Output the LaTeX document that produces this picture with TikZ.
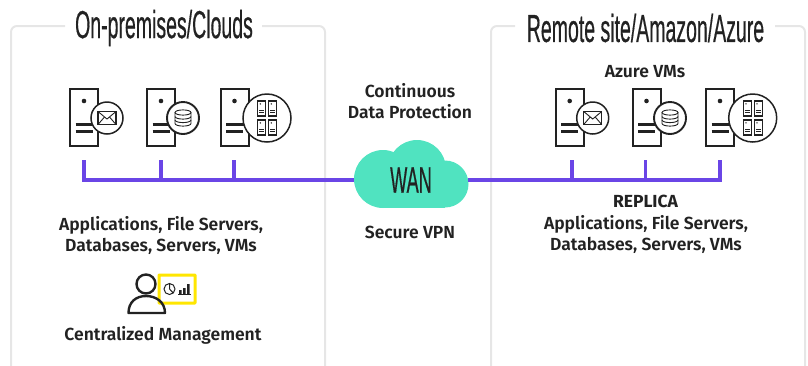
\documentclass[tikz,border=0pt]{standalone}
\usepackage{fontspec}
\setmainfont{Fira Sans SemiBold}
\newfontfamily\boldfont{Fira Sans}[UprightFont=*-Bold]
\newfontfamily\narrowfont{Liberation Sans}[FakeBold=0.7]
\definecolor{busc}{HTML}{6A45E6}
\definecolor{cloudc}{HTML}{50E3C0}
\definecolor{panelc}{HTML}{E6E6E6}
\definecolor{inkc}{HTML}{222222}
\definecolor{yelc}{HTML}{FFE600}
\tikzset{
  panel/.style={draw=panelc,line width=2pt,rounded corners=6pt},
  bus/.style={draw=busc,line width=3.2pt},
  label/.style={inner sep=0pt,align=center,text=inkc,font=\fontsize{17.5}{21}\selectfont},
  title/.style={inner sep=0pt,text=inkc},
  srv/.style={draw=inkc,line width=2pt,fill=white},
  srvline/.style={draw=inkc,line width=2.4pt},
  badge/.style={draw=inkc,line width=1.5pt,fill=white},
  thin/.style={draw=inkc,line width=.9pt,fill=white},
  minisrv/.pic={
    \draw[thin,line width=1.2pt] (-4,-7.5) rectangle (4,7.5);
    \fill[inkc] (-1.2,-4.6) circle (.8);
    \draw[thin] (-2.4,2.2) -- (2.4,2.2) (-2.4,4.3) -- (2.4,4.3);
  },
  rack/.pic={
    \draw[srv] (-14,-28.5) rectangle (14,28.5);
    \fill[inkc] (0,-16.5) circle (2.3);
    \draw[srvline] (-8.5,7) -- (10,7) (-8.5,14) -- (8.5,14);
  },
  mailbadge/.pic={
    \draw[badge] (0,0) circle (16);
    \draw[thin,line width=1.3pt] (-9,-6.5) rectangle (9,6.5);
    \draw[thin,fill=none] (-9,-6.5) -- (0,1) -- (9,-6.5) (-9,6.5) -- (-2.5,-1) (9,6.5) -- (2.5,-1);
  },
  dbbadge/.pic={
    \draw[badge,line width=1.9pt] (0,0) circle (16);
    \draw[thin,fill=none] (-8,-5.5) -- (-8,5.5) arc[start angle=180,end angle=0,x radius=8,y radius=2.6] -- (8,-5.5);
    \draw[thin,fill=none] (0,-5.5) ellipse[x radius=8,y radius=2.6];
    \draw[thin,fill=none] (-8,-1.5) arc[start angle=180,end angle=0,x radius=8,y radius=2.6];
    \draw[thin,fill=none] (-8,2) arc[start angle=180,end angle=0,x radius=8,y radius=2.6];
  },
  farmbadge/.pic={
    \draw[badge] (0,0) circle (24);
    \foreach \dx in {-5.5,5.5}\foreach \dy in {-9.5,9.5}{\pic at (\dx,\dy) {minisrv};}
  }
}
\begin{document}
\begin{tikzpicture}[x=1pt,y=-1pt]
\useasboundingbox (0,0) rectangle (808,365);
% panels
\draw[panel] (65,26) -- (11,26) -- (11,372) (262,26) -- (325,26) -- (325,372);
\draw[panel] (515,26) -- (491,26) -- (491,372) (775,26) -- (805,26) -- (805,372);
\node[title] (ltitle) at (164,28) {\narrowfont\scalebox{.5}[1]{\fontsize{39}{39}\selectfont On-premises/Clouds}};
\node[title] (rtitle) at (645.5,28) {\narrowfont\scalebox{.5}[1]{\fontsize{39}{39}\selectfont Remote site/Amazon/Azure}};
% racks and badges, left
\pic at (84,117.5) {rack};
\pic at (107,118) {mailbadge};
\pic at (161,117.5) {rack};
\pic at (183,118) {dbbadge};
\pic at (234.5,117.5) {rack};
\pic at (267,118) {farmbadge};
% racks and badges, right
\pic at (569.7,117.5) {rack};
\pic at (592.7,118) {mailbadge};
\pic at (646.5,117.5) {rack};
\pic at (670,118) {dbbadge};
\pic at (720,117.5) {rack};
\pic at (752.7,118) {farmbadge};
% cloud
\fill[cloudc] (383,179) circle (29);
\fill[cloudc] (417,169) circle (29);
\fill[cloudc] (445,184) circle (23.5);
\fill[cloudc] (383,180) rectangle (445,207.5);
\node[title,minimum width=114pt,minimum height=10pt] (wan) at (411,180) {\narrowfont\scalebox{.49}[1]{\fontsize{37}{37}\selectfont WAN}};
% bus
\coordinate (la) at (84,160); \coordinate (lb) at (161,160); \coordinate (lc) at (234,160);
\coordinate (lab) at (84,180); \coordinate (lbb) at (161,180); \coordinate (lcb) at (234,180);
\coordinate (ra) at (572,160); \coordinate (rb) at (645.5,160); \coordinate (rc) at (720,160);
\coordinate (rab) at (572,180); \coordinate (rbb) at (645.5,180); \coordinate (rcb) at (720,180);
\draw[bus] (la) -- (lab) -- (wan.west);
\draw[bus] (lb) -- (lbb);
\draw[bus] (lc) -- (lcb);
\draw[bus] (wan.east) -- (rcb) -- (rc);
\draw[bus] (ra) -- (rab);
\draw[bus] (rb) -- (rbb);
% labels
\node[label] (cdp) at (410,101.5) {Continuous\\Data Protection};
\node[label] (vpn) at (410,232.5) {Secure VPN};
\node[label] (lapps) at (161,235) {Applications, File Servers,\\Databases, Servers, VMs};
\node[label] (mgmt) at (163,335) {Centralized Management};
\node[label] (azvm) at (645,72) {Azure VMs};
\node[label,font=\fontsize{17.5}{21}\boldfont] (rep) at (645.5,201.5) {REPLICA};
\node[label] (rapps) at (646,234.5) {Applications, File Servers,\\Databases, Servers, VMs};
% person and dashboard
\draw[draw=yelc,line width=3pt,fill=white,rounded corners=.5pt] (159,275) rectangle (195,303);
\draw[draw=inkc,line width=1pt] (169.5,289) circle (5.5) (169.5,289) -- (169.5,283.5) (169.5,289) -- (173.3,293);
\fill[inkc] (179,290) rectangle (181.5,294) (183,288) rectangle (185.5,294) (187,284) rectangle (189.5,294);
\draw[draw=inkc,line width=1pt] (178,294.5) -- (190.5,294.5);
\draw[draw=inkc,line width=2.4pt,fill=white] (146,284) circle (9.5);
\draw[draw=inkc,line width=2.4pt,line join=round] (128.5,313) .. controls (128.5,302) and (136,296) .. (146,296) .. controls (156,296) and (165,302) .. (165,313) -- cycle;
\end{tikzpicture}
\end{document}
